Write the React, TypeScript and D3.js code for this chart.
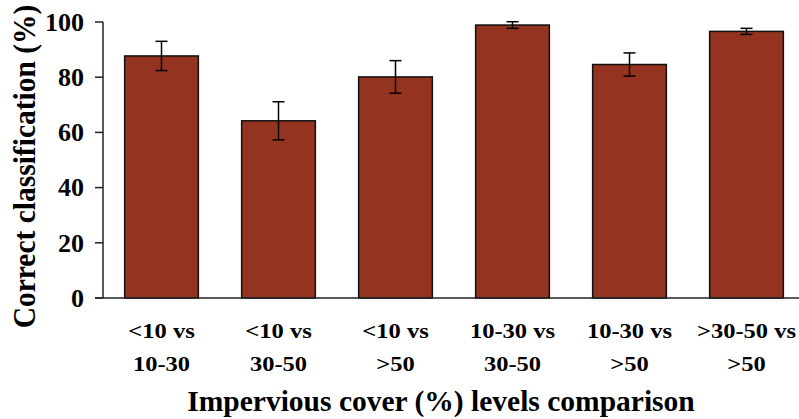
import React from "react";
import * as d3 from "d3";

const categories = ["<10 vs|10-30", "<10 vs|30-50", "<10 vs|>50", "10-30 vs|30-50", "10-30 vs|>50", ">30-50 vs|>50"];
const values = [87.7, 64.2, 80.1, 98.9, 84.6, 96.6];
const errors = [5.3, 6.9, 5.9, 1.2, 4.2, 1.1];
const yTicks = [0, 20, 40, 60, 80, 100];

const W = 799;
const H = 419;
const font = "'Liberation Serif', 'Times New Roman', serif";

export default function App() {
  const x = d3.scaleBand<string>().domain(categories).range([103, 805]).paddingInner(0.37).paddingOuter(0.185);
  const y = d3.scaleLinear().domain([0, 100]).range([298, 22]);
  const axisColor = "#222";
  return (
    <svg width={W} height={H} style={{ position: "absolute", left: 0, top: 0, background: "#fff" }}>
      {categories.map((c, i) => {
        const x0 = x(c)!;
        const bw = x.bandwidth();
        const cx = x0 + bw / 2;
        const v = values[i];
        const e = errors[i];
        const lines = c.split("|");
        return (
          <g key={c}>
            <rect x={x0} y={y(v)} width={bw} height={y(0) - y(v)} fill="#943420" stroke="#111" strokeWidth={1.5} />
            <line x1={cx} x2={cx} y1={y(v + e)} y2={y(v - e)} stroke="#000" strokeWidth={1.5} />
            <line x1={cx - 6} x2={cx + 6} y1={y(v + e)} y2={y(v + e)} stroke="#000" strokeWidth={1.5} />
            <line x1={cx - 6} x2={cx + 6} y1={y(v - e)} y2={y(v - e)} stroke="#000" strokeWidth={1.5} />
            {lines.map((t, j) => (
              <text
                key={j}
                transform={`translate(${cx}, ${338 + j * 33}) scale(1.14, 1)`}
                textAnchor="middle"
                fontFamily={font}
                fontWeight="bold"
                fontSize={21.5}
              >
                {t}
              </text>
            ))}
          </g>
        );
      })}
      <line x1={103} x2={103} y1={y(100)} y2={y(0)} stroke={axisColor} strokeWidth={1.5} />
      <line x1={95} x2={W} y1={y(0)} y2={y(0)} stroke={axisColor} strokeWidth={1.5} />
      {yTicks.map((t) => (
        <g key={t}>
          <line x1={95} x2={103} y1={y(t)} y2={y(t)} stroke={axisColor} strokeWidth={1.5} />
          <text x={84} y={y(t)} dy="0.34em" textAnchor="end" fontFamily={font} fontWeight="bold" fontSize={26}>
            {t}
          </text>
        </g>
      ))}
      <text
        transform={`translate(35, 166.5) scale(1.1, 1) rotate(-90)`}
        textAnchor="middle"
        fontFamily={font}
        fontWeight="bold"
        fontSize={29.5}
      >
        Correct classification (%)
      </text>
      <text x={441} y={411} textAnchor="middle" fontFamily={font} fontWeight="bold" fontSize={29.5}>
        Impervious cover (%) levels comparison
      </text>
    </svg>
  );
}
